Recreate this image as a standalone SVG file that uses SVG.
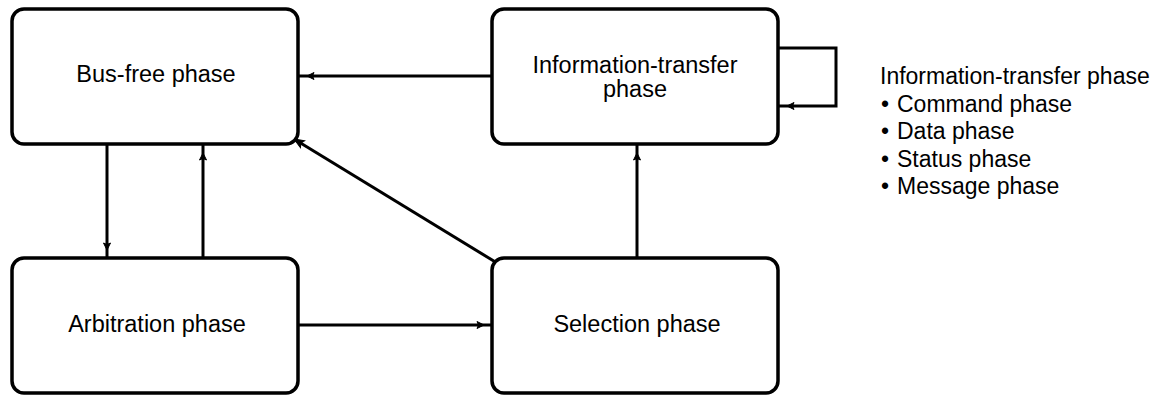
<svg xmlns="http://www.w3.org/2000/svg" width="1160" height="395" viewBox="0 0 1160 395">
<style>
.box{fill:#fff;stroke:#000;stroke-width:3.5}
.lbl{font-family:"Liberation Sans",Arial,sans-serif;font-size:23.5px;fill:#000;text-anchor:middle}
.leg{font-family:"Liberation Sans",Arial,sans-serif;font-size:23px;fill:#000}
.con{fill:none;stroke:#000;stroke-width:3}
</style>
<defs>
<marker id="ah" markerUnits="userSpaceOnUse" viewBox="-18 -5 20 10" refX="0" refY="0" markerWidth="20" markerHeight="10" orient="auto">
<path d="M-8,0 L-15,-3.5 L-13.5,0 L-15,3.5 Z" fill="#000" stroke="#000" stroke-width="1"/>
</marker>
<marker id="ah2" markerUnits="userSpaceOnUse" viewBox="-12 -5 14 10" refX="0" refY="0" markerWidth="14" markerHeight="10" orient="auto">
<path d="M0,0 L-10,-4 L-8,0 L-10,4 Z" fill="#000" stroke="#000" stroke-width="1"/>
</marker>
</defs>
<g id="connectors">
<line class="con" x1="492" y1="76" x2="299" y2="76" marker-end="url(#ah)"/>
<line class="con" x1="107" y1="145" x2="107" y2="258" marker-end="url(#ah)"/>
<line class="con" x1="203" y1="258" x2="203" y2="145" marker-end="url(#ah)"/>
<line class="con" x1="298" y1="325" x2="492" y2="325" marker-end="url(#ah)"/>
<line class="con" x1="637" y1="259" x2="637" y2="145" marker-end="url(#ah)"/>
<line class="con" x1="497" y1="263" x2="294" y2="139" marker-end="url(#ah2)"/>
<polyline class="con" points="778,48 836,48 836,106 779,106" marker-end="url(#ah)"/>
</g>
<g id="bus-free">
<rect class="box" x="12" y="9" width="286" height="135" rx="12"/>
<text class="lbl" x="156" y="82">Bus-free phase</text>
</g>
<g id="information-transfer">
<rect class="box" x="492" y="9" width="286" height="135" rx="12"/>
<text class="lbl" x="635" y="73">Information-transfer</text>
<text class="lbl" x="635" y="97">phase</text>
</g>
<g id="arbitration">
<rect class="box" x="12" y="258" width="286" height="135" rx="12"/>
<text class="lbl" x="157" y="332">Arbitration phase</text>
</g>
<g id="selection">
<rect class="box" x="492" y="258" width="286" height="135" rx="12"/>
<text class="lbl" x="637" y="332">Selection phase</text>
</g>
<g id="legend">
<text class="leg" x="880" y="84">Information-transfer phase</text>
<text class="leg" x="881" y="111.5">•</text><text class="leg" x="897" y="111.5">Command phase</text>
<text class="leg" x="881" y="139">•</text><text class="leg" x="897" y="139">Data phase</text>
<text class="leg" x="881" y="166.5">•</text><text class="leg" x="897" y="166.5">Status phase</text>
<text class="leg" x="881" y="194">•</text><text class="leg" x="897" y="194">Message phase</text>
</g>
</svg>
